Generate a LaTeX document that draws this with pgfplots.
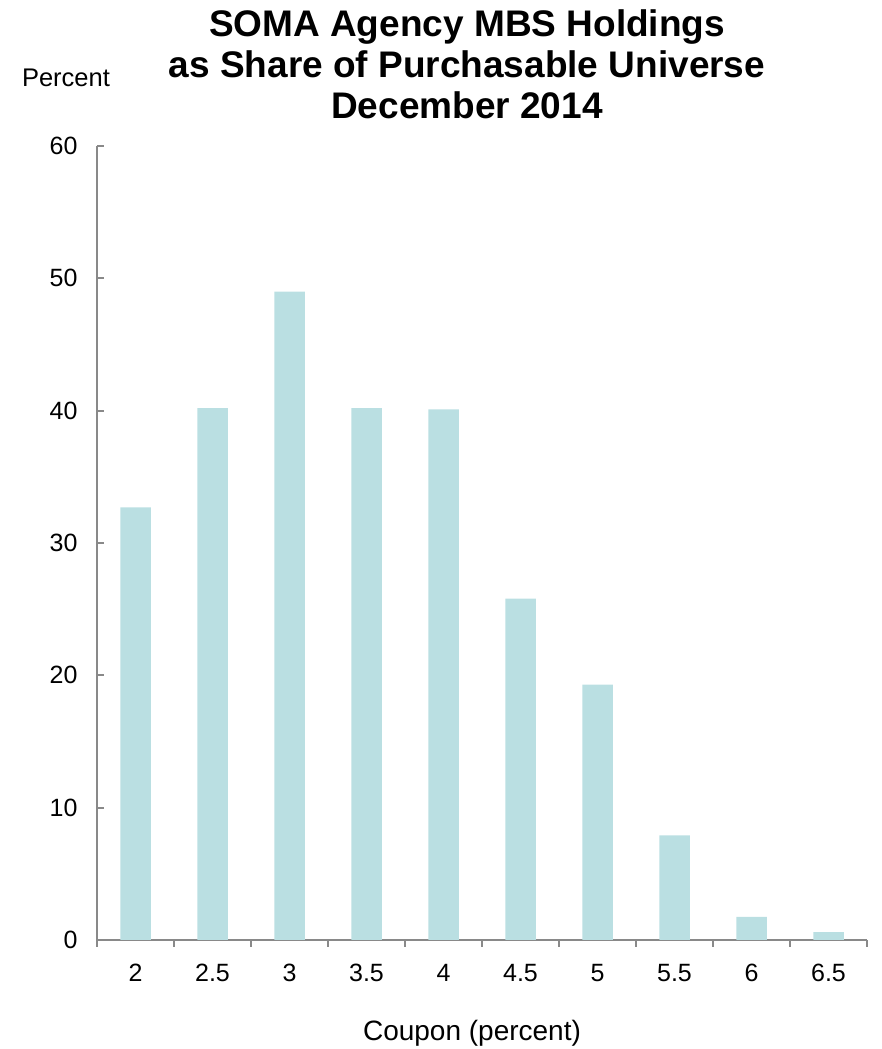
\documentclass[border=0pt]{standalone}
\usepackage{fontspec}
\setmainfont{Liberation Sans}
\usepackage{pgfplots}
\pgfplotsset{compat=1.18}
\definecolor{barc}{RGB}{186,223,226}
\definecolor{axc}{RGB}{137,137,137}
\begin{document}
\begin{tikzpicture}
\useasboundingbox (0pt,0pt) rectangle (881pt,1049pt);
\begin{axis}[
  at={(97pt,109pt)}, anchor=south west,
  scale only axis, width=770pt, height=794pt,
  xmin=-0.5, xmax=9.5, ymin=0, ymax=60,
  axis x line*=bottom, axis y line*=left,
  axis line style={draw=axc, line width=1.8pt},
  every tick/.style={draw=axc, line width=1.8pt},
  tick align=inside,
  major tick length=7pt,
  xtick={-0.5,0.5,1.5,2.5,3.5,4.5,5.5,6.5,7.5,8.5,9.5},
  xticklabels={},
  xtick style={yshift=-7pt},
  extra x ticks={0,1,2,3,4,5,6,7,8,9},
  extra x tick labels={2,2.5,3,3.5,4,4.5,5,5.5,6,6.5},
  extra x tick style={major tick length=0pt},
  ytick={0,10,20,30,40,50,60},
  ticklabel style={font=\fontsize{25}{30}\selectfont, text=black},
  xticklabel style={anchor=base, yshift=-42pt},
  yticklabel style={anchor=east, xshift=-16pt},
  /pgf/number format/assume math mode=true,
]
\addplot[ybar, bar width=30.5pt, fill=barc, draw=none] coordinates {
  (0,32.7) (1,40.2) (2,49.0) (3,40.2) (4,40.1)
  (5,25.8) (6,19.3) (7,7.9) (8,1.74) (9,0.6)};
\end{axis}
\node[font=\bfseries\fontsize{37}{41}\selectfont, anchor=base] at (467pt,1012pt) {SOMA Agency MBS Holdings};
\node[font=\bfseries\fontsize{37}{41}\selectfont, anchor=base] at (467pt,971pt) {as Share of Purchasable Universe};
\node[font=\bfseries\fontsize{37}{41}\selectfont, anchor=base] at (467pt,930pt) {December 2014};
\node[font=\fontsize{25.5}{30}\selectfont, anchor=base] at (66pt,962pt) {Percent};
\node[font=\fontsize{28}{33}\selectfont, anchor=base] at (472pt,9pt) {Coupon (percent)};
\end{tikzpicture}
\end{document}
